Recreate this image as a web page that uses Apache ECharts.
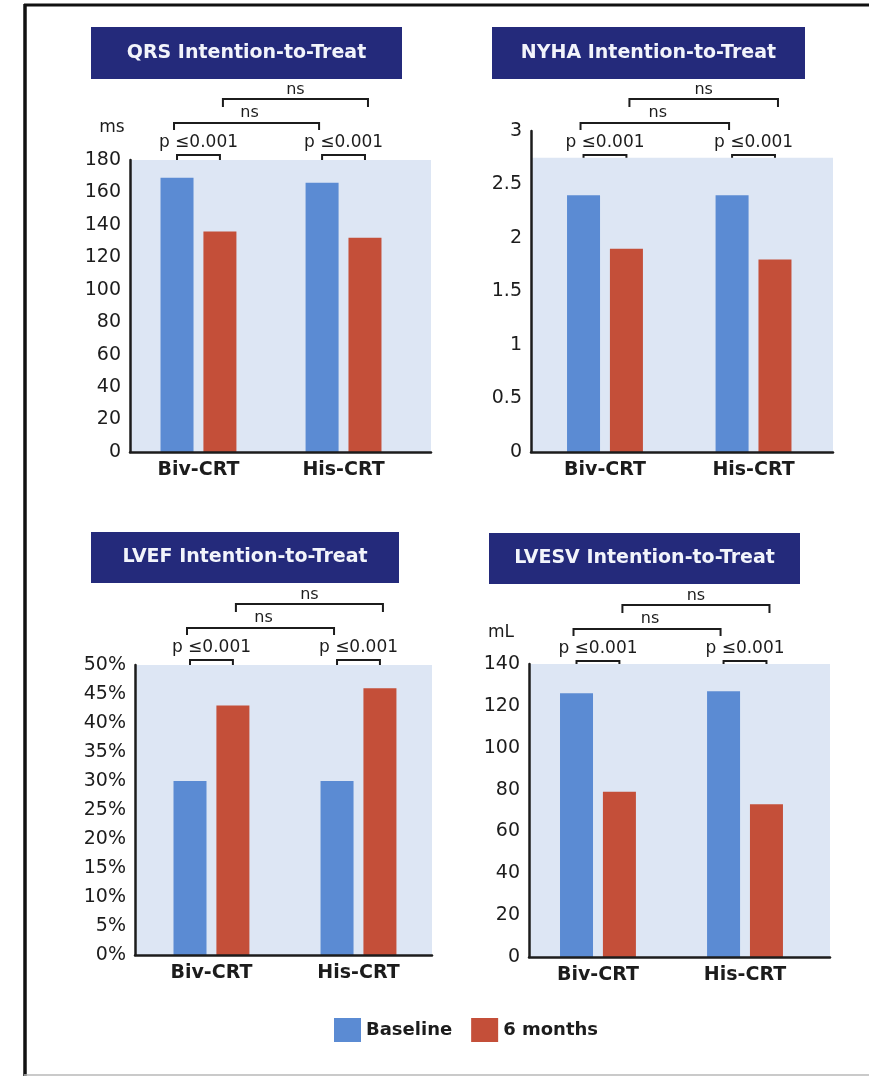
<!DOCTYPE html>
<html>
<head>
<meta charset="utf-8">
<script src="https://cdn.jsdelivr.net/npm/echarts@6/dist/echarts.min.js"></script>
<style>
  html, body { margin: 0; padding: 0; background: #ffffff; }
  #chart { width: 869px; height: 1077px; }
</style>
</head>
<body>
<div id="chart"></div>
<script>
// Groups and series names
const categories = ['Biv-CRT', 'His-CRT'];
const seriesNames = ['Baseline', '6 months'];

// QRS duration (ms)
const qrsBaseline = [169, 166];
const qrsSixMonths = [136, 132];
// NYHA class
const nyhaBaseline = [2.4, 2.4];
const nyhaSixMonths = [1.9, 1.8];
// LVEF (%)
const lvefBaseline = [30, 30];
const lvefSixMonths = [43, 46];
// LVESV (mL)
const lvesvBaseline = [126, 127];
const lvesvSixMonths = [79, 73];

// Comparison labels
const withinGroupLabel = 'p ≤0.001';
const betweenGroupLabel = 'ns';

const BLUE = '#5b8bd3';
const RED = '#c44f39';
const PANEL_BG = '#dde6f4';
const NAVY = '#242a7b';
const INK = '#1c1c1c';
const FONT = '"DejaVu Sans", sans-serif';

const BAR_W = 33;
const BAR_GAP = 0.3;

const panels = [
  { title: 'QRS Intention-to-Treat', base: qrsBaseline, six: qrsSixMonths,
    yMax: 180, yStep: 20, bgTop: 180, fmt: v => String(v), unit: 'ms', unitPos: [112, 128],
    box: [91, 27, 311, 52], grid: { left: 130, top: 160, width: 301, height: 292 },
    xRange: [-0.472, 1.603] },
  { title: 'NYHA Intention-to-Treat', base: nyhaBaseline, six: nyhaSixMonths,
    yMax: 3, yStep: 0.5, bgTop: 2.75, fmt: v => String(v), unit: null,
    box: [492, 27, 313, 52], grid: { left: 531, top: 131, width: 302, height: 321 },
    xRange: [-0.498, 1.535] },
  { title: 'LVEF Intention-to-Treat', base: lvefBaseline, six: lvefSixMonths,
    yMax: 50, yStep: 5, bgTop: 50, fmt: v => v + '%', unit: null,
    box: [91, 532, 308, 51], grid: { left: 135, top: 665, width: 297, height: 290 },
    xRange: [-0.52, 1.50] },
  { title: 'LVESV Intention-to-Treat', base: lvesvBaseline, six: lvesvSixMonths,
    yMax: 140, yStep: 20, bgTop: 140, fmt: v => String(v), unit: 'mL', unitPos: [501, 633],
    box: [489, 533, 311, 51], grid: { left: 529, top: 664, width: 301, height: 293 },
    xRange: [-0.469, 1.578] }
];

const chart = echarts.init(document.getElementById('chart'), null, { renderer: 'canvas' });

const grids = [], xAxes = [], yAxes = [], series = [];
panels.forEach((p, i) => {
  grids.push(Object.assign({ containLabel: false }, p.grid));
  xAxes.push({
    type: 'value', gridIndex: i, min: p.xRange[0], max: p.xRange[1], z: 5,
    axisLine: { show: true, onZero: false, lineStyle: { color: INK, width: 2.5 } },
    axisTick: { show: false },
    splitLine: { show: false },
    axisLabel: {
      customValues: [0, 1],
      formatter: v => categories[Math.round(v)],
      margin: 9, color: INK, fontFamily: FONT, fontWeight: 'bold', fontSize: 19
    }
  });
  yAxes.push({
    type: 'value', gridIndex: i, min: 0, max: p.yMax, interval: p.yStep, z: 5,
    axisLine: { show: true, onZero: false, lineStyle: { color: INK, width: 2.5 } },
    axisTick: { show: false },
    splitLine: { show: false },
    axisLabel: { formatter: p.fmt, margin: 9, color: INK, fontFamily: FONT, fontSize: 19,
                 padding: [0, 0, 5, 0] }
  });
  series.push({
    name: seriesNames[0], type: 'bar', xAxisIndex: i, yAxisIndex: i,
    barWidth: BAR_W, barGap: (BAR_GAP * 100) + '%',
    itemStyle: { color: BLUE },
    data: p.base.map((v, k) => [k, v]),
    markArea: {
      silent: true,
      itemStyle: { color: PANEL_BG },
      data: [[{ yAxis: 0 }, { yAxis: p.bgTop }]]
    }
  });
  series.push({
    name: seriesNames[1], type: 'bar', xAxisIndex: i, yAxisIndex: i,
    barWidth: BAR_W, barGap: (BAR_GAP * 100) + '%',
    itemStyle: { color: RED },
    data: p.six.map((v, k) => [k, v])
  });
});

chart.setOption({
  animation: false,
  backgroundColor: '#ffffff',
  grid: grids,
  xAxis: xAxes,
  yAxis: yAxes,
  series: series,
  legend: {
    data: seriesNames,
    left: 334, top: 1018, padding: 0,
    icon: 'rect', itemWidth: 27, itemHeight: 24, itemGap: 19,
    textStyle: { color: INK, fontFamily: FONT, fontSize: 18, fontWeight: 'bold' }
  }
});

// Annotations: frame, title boxes, unit labels and comparison brackets
const graphics = [];
graphics.push({ type: 'line', shape: { x1: 24, y1: 5, x2: 869, y2: 5 }, style: { stroke: '#111', lineWidth: 3 } });
graphics.push({ type: 'line', shape: { x1: 25, y1: 4, x2: 25, y2: 1076 }, style: { stroke: '#111', lineWidth: 3.5 } });
graphics.push({ type: 'line', shape: { x1: 24, y1: 1075, x2: 869, y2: 1075 }, style: { stroke: '#b8b8b8', lineWidth: 1.5 } });

const half = BAR_W * (1 + BAR_GAP) / 2;
function bracket(x1, x2, y, tick) {
  return { type: 'polyline', shape: { points: [[x1, y + tick], [x1, y], [x2, y], [x2, y + tick]] },
           style: { stroke: INK, lineWidth: 2, fill: null } };
}
function label(text, x, y, size) {
  return { type: 'text', x: x, y: y,
           style: { text: text, fill: INK, font: size + 'px ' + FONT, textAlign: 'center', textVerticalAlign: 'middle' } };
}

panels.forEach((p, i) => {
  const [bx, by, bw, bh] = p.box;
  graphics.push({ type: 'rect', shape: { x: bx, y: by, width: bw, height: bh }, style: { fill: NAVY } });
  graphics.push({ type: 'text', x: bx + bw / 2, y: by + bh / 2,
    style: { text: p.title, fill: '#f2f4fb', font: 'bold 19px ' + FONT, textAlign: 'center', textVerticalAlign: 'middle' } });
  if (p.unit) graphics.push(label(p.unit, p.unitPos[0], p.unitPos[1], 17));

  const c0 = chart.convertToPixel({ xAxisIndex: i }, 0);
  const c1 = chart.convertToPixel({ xAxisIndex: i }, 1);
  const T = by;
  // baseline vs 6 months within each group
  [c0, c1].forEach(c => {
    graphics.push(bracket(c - half, c + half, T + 128, 8));
    graphics.push(label(withinGroupLabel, c, T + 116, 17));
  });
  // Biv vs His at baseline
  graphics.push(bracket(c0 - half - 3, c1 - half - 3, T + 96, 7));
  graphics.push(label(betweenGroupLabel, (c0 + c1) / 2 - half, T + 86, 16));
  // Biv vs His at 6 months
  graphics.push(bracket(c0 + half + 3, c1 + half + 3, T + 72, 8));
  graphics.push(label(betweenGroupLabel, (c0 + c1) / 2 + half + 3, T + 63, 16));
});

chart.setOption({ graphic: graphics });
</script>
</body>
</html>
